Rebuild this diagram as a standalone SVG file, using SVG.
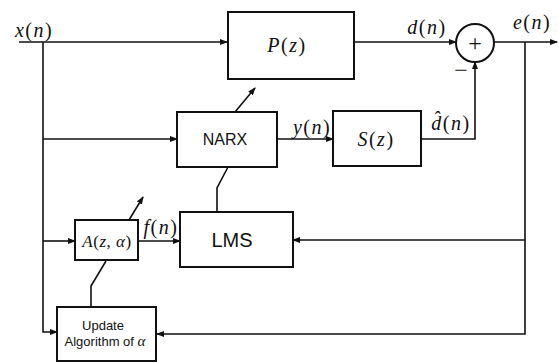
<svg xmlns="http://www.w3.org/2000/svg" width="559" height="362" viewBox="0 0 559 362">
<defs>
<style>
.box{fill:#fff;stroke:#111;stroke-width:2}
.ln{fill:none;stroke:#111;stroke-width:1.6}
.m{font-family:"Liberation Serif",serif;font-style:italic;font-size:20px;letter-spacing:1.5px;fill:#111}
.mu{font-family:"Liberation Serif",serif;fill:#111}
.s{font-family:"Liberation Sans",Arial,sans-serif;fill:#111;text-anchor:middle}
</style>
<marker id="ah" markerWidth="8" markerHeight="6" refX="7" refY="3" orient="auto" markerUnits="userSpaceOnUse">
<path d="M0,0 L8,3 L0,6 Z" fill="#111"/>
</marker>
</defs>
<rect width="559" height="362" fill="#fff"/>
<g id="connectors">
<path class="ln" d="M19,42 H227" marker-end="url(#ah)"/>
<path class="ln" d="M43,42 V332 H57" marker-end="url(#ah)"/>
<path class="ln" d="M43,139 H177" marker-end="url(#ah)"/>
<path class="ln" d="M43,241 H75" marker-end="url(#ah)"/>
<path class="ln" d="M354,42 H456" marker-end="url(#ah)"/>
<path class="ln" d="M494,42 H557" marker-end="url(#ah)"/>
<path class="ln" d="M277,139 H333" marker-end="url(#ah)"/>
<path class="ln" d="M421,139 H475 V62" marker-end="url(#ah)"/>
<path class="ln" d="M525,42 V334 H157" marker-end="url(#ah)"/>
<path class="ln" d="M525,240 H293" marker-end="url(#ah)"/>
<path class="ln" d="M138,241 H180" marker-end="url(#ah)"/>
<path class="ln" d="M235,112 L255,88" marker-end="url(#ah)"/>
<path class="ln" d="M217,212 V188 L228,167"/>
<path class="ln" d="M129,220 L143,197" marker-end="url(#ah)"/>
<path class="ln" d="M106,261 L91,286 V307"/>
</g>
<g id="P">
<rect class="box" x="228" y="12" width="126" height="67"/>
<text class="m" x="287" y="52" text-anchor="middle">P<tspan font-style="normal">(</tspan>z<tspan font-style="normal">)</tspan></text>
</g>
<g id="sum">
<circle cx="475" cy="43" r="19" fill="#fff" stroke="#111" stroke-width="2"/>
<text class="mu" x="475" y="51" text-anchor="middle" style="font-size:24px">+</text>
<text class="mu" x="461" y="78" text-anchor="middle" style="font-size:24px">−</text>
</g>
<g id="NARX">
<rect class="box" x="177" y="112" width="100" height="55"/>
<text class="s" x="225" y="145" style="font-size:16px">NARX</text>
</g>
<g id="S">
<rect class="box" x="333" y="111" width="88" height="55"/>
<text class="m" x="376" y="146" text-anchor="middle">S<tspan font-style="normal">(</tspan>z<tspan font-style="normal">)</tspan></text>
</g>
<g id="LMS">
<rect class="box" x="180" y="212" width="113" height="55"/>
<text class="s" x="232" y="247" style="font-size:20px">LMS</text>
</g>
<g id="A">
<rect class="box" x="75" y="220" width="63" height="40"/>
<text class="m" x="107" y="247" text-anchor="middle" style="font-size:17px;letter-spacing:0.5px">A<tspan font-style="normal">(</tspan>z<tspan font-style="normal">,</tspan> α<tspan font-style="normal">)</tspan></text>
</g>
<g id="Update">
<rect class="box" x="57" y="307" width="99" height="54"/>
<text class="s" x="103" y="330" style="font-size:13px">Update</text>
<text class="s" x="105" y="346" style="font-size:13px">Algorithm of <tspan style="font-family:'Liberation Serif',serif;font-style:italic;font-size:15px">α</tspan></text>
</g>
<g id="labels">
<text class="m" x="34" y="37" text-anchor="middle">x<tspan font-style="normal">(</tspan>n<tspan font-style="normal">)</tspan></text>
<text class="m" x="427" y="34" text-anchor="middle">d<tspan font-style="normal">(</tspan>n<tspan font-style="normal">)</tspan></text>
<text class="m" x="532" y="29" text-anchor="middle">e<tspan font-style="normal">(</tspan>n<tspan font-style="normal">)</tspan></text>
<text class="m" x="312" y="134" text-anchor="middle">y<tspan font-style="normal">(</tspan>n<tspan font-style="normal">)</tspan></text>
<text class="m" x="451" y="130" text-anchor="middle">d̂<tspan font-style="normal">(</tspan>n<tspan font-style="normal">)</tspan></text>
<text class="m" x="161" y="234" text-anchor="middle">f<tspan font-style="normal">(</tspan>n<tspan font-style="normal">)</tspan></text>
</g>
</svg>
